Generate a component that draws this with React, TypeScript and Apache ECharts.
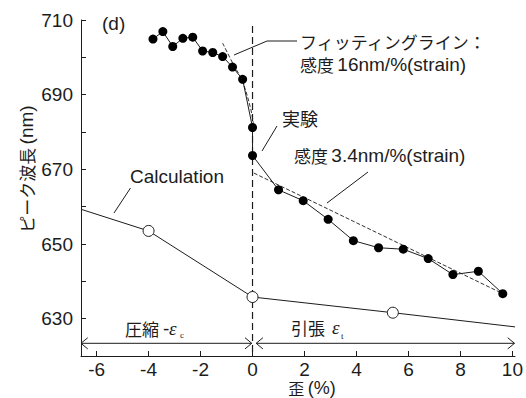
import React, { useEffect, useRef } from "react";
import * as echarts from "echarts";

// Experiment (filled circles)
const expStrain = [-3.83, -3.45, -3.07, -2.68, -2.3, -1.92, -1.53, -1.15, -0.77, -0.38, 0, 0, 1.0, 1.95, 2.91, 3.88, 4.85, 5.8, 6.76, 7.71, 8.69, 9.63];
const expPeak = [704.9, 706.9, 702.9, 705.1, 705.4, 701.7, 701.3, 700.2, 697.4, 694.1, 681.2, 673.7, 664.5, 661.6, 656.6, 650.9, 649.0, 648.6, 646.1, 641.8, 642.7, 636.7];

// Calculation (open circles; the end points are unmarked)
const calcStrain = [-6.6, -4, 0, 5.4, 10.1];
const calcPeak = [659.3, 653.5, 635.8, 631.6, 627.8];
const calcMarked = [false, true, true, true, false];

// Fitting lines
const fitNegStrain = [-1.15, -0.73, -0.41, -0.09, 0.04];
const fitNegPeak = [703.8, 698.0, 693.9, 686.8, 681.9];
const fitPosStrain = [0.05, 9.63];
const fitPosPeak = [669.0, 636.7];

// Axis ticks
const xTicks = [-6, -4, -2, 0, 2, 4, 6, 8, 10];
const yTicks = [630, 640, 650, 660, 670, 680, 690, 700, 710];
const yLabels = [630, 650, 670, 690, 710];

// zero-strain marker and arrows
const zeroLine = [[0, 708.4], [0, 620]];
const arrowY = 623.4;
const leftArrow = [-6.6, -0.03];
const rightArrow = [0.14, 10.08];

const INK = "#1c1c1c";
const LAT = "'Liberation Sans', Arial, 'Noto Sans CJK JP', sans-serif";
const JP = "'Noto Sans CJK JP', 'Liberation Sans', sans-serif";

export default function App() {
  const ref = useRef<HTMLDivElement>(null);
  useEffect(() => {
    if (!ref.current) return;
    const chart = echarts.init(ref.current, null, { renderer: "svg" });

    const hx = 0.26; // chevron length (x units)
    const hy = 1.5; // chevron half height (y units)
    const chevron = (tipX: number, dir: number) => [
      [tipX + dir * hx, arrowY + hy],
      [tipX, arrowY],
      [tipX + dir * hx, arrowY - hy],
    ];
    const lineSeries = (data: number[][], extra: any = {}) => ({
      type: "line",
      data,
      symbol: "none",
      silent: true,
      lineStyle: { color: INK, width: 1 },
      ...extra,
    });

    const option: any = {
      animation: false,
      backgroundColor: "#ffffff",
      grid: { left: 81, right: 11, top: 20, bottom: 42, containLabel: false },
      xAxis: {
        type: "value",
        min: -6.6,
        max: 10.1,
        axisLine: { onZero: false, lineStyle: { color: INK, width: 1 } },
        axisTick: { inside: true, length: 5, customValues: xTicks, lineStyle: { color: INK } },
        axisLabel: { customValues: xTicks, color: INK, fontSize: 19, lineHeight: 18, fontFamily: LAT, margin: 4 },
        splitLine: { show: false },
      },
      yAxis: {
        type: "value",
        min: 620,
        max: 710,
        axisLine: { show: true, onZero: false, lineStyle: { color: INK, width: 1 } },
        axisTick: { show: true, inside: true, length: 5, customValues: yTicks, lineStyle: { color: INK } },
        axisLabel: { customValues: yLabels, color: INK, fontSize: 19, fontFamily: LAT, margin: 8 },
        splitLine: { show: false },
      },
      series: [
        lineSeries(zeroLine, { lineStyle: { color: INK, width: 1.2, type: [7, 4] } }),
        lineSeries(fitNegStrain.map((x, i) => [x, fitNegPeak[i]]), {
          smooth: 0.4,
          lineStyle: { color: INK, width: 0.9, type: [4, 2] },
        }),
        lineSeries(fitPosStrain.map((x, i) => [x, fitPosPeak[i]]), {
          lineStyle: { color: INK, width: 0.9, type: [4, 2] },
        }),
        lineSeries([[leftArrow[0], arrowY], [leftArrow[1], arrowY]]),
        lineSeries(chevron(leftArrow[0], 1)),
        lineSeries(chevron(leftArrow[1], -1)),
        lineSeries([[rightArrow[0], arrowY], [rightArrow[1], arrowY]]),
        lineSeries(chevron(rightArrow[0], 1)),
        lineSeries(chevron(rightArrow[1], -1)),
        {
          type: "line",
          name: "Calculation",
          data: calcStrain.map((x, i) => ({
            value: [x, calcPeak[i]],
            symbol: calcMarked[i] ? "circle" : "none",
          })),
          symbol: "circle",
          symbolSize: 11,
          showAllSymbol: true,
          lineStyle: { color: INK, width: 1 },
          itemStyle: { color: "#ffffff", borderColor: INK, borderWidth: 1 },
          z: 3,
        },
        {
          type: "line",
          name: "実験",
          data: expStrain.map((x, i) => [x, expPeak[i]]),
          symbol: "circle",
          symbolSize: 9,
          showAllSymbol: true,
          lineStyle: { color: INK, width: 1 },
          itemStyle: { color: "#000000", borderColor: "#000000", borderWidth: 0 },
          z: 4,
        },
      ],
      graphic: [
        { type: "text", x: 102, y: 23, style: { text: "(d)", fontSize: 19, fontFamily: LAT, fill: INK, verticalAlign: "middle" } },
        {
          type: "text",
          x: 26,
          y: 169,
          rotation: Math.PI / 2,
          style: {
            text: "{j|ピーク波長} {l|(nm)}",
            align: "center",
            verticalAlign: "middle",
            fill: INK,
            rich: {
              j: { fontSize: 17, fontFamily: JP, fill: INK },
              l: { fontSize: 19, fontFamily: LAT, fill: INK },
            },
          },
        },
        {
          type: "text",
          x: 312,
          y: 387.5,
          style: {
            text: "{j|歪} {l|(%)}",
            align: "center",
            verticalAlign: "middle",
            fill: INK,
            rich: {
              j: { fontSize: 16, fontFamily: JP, fill: INK, lineHeight: 18 },
              l: { fontSize: 18, fontFamily: LAT, fill: INK, lineHeight: 18 },
            },
          },
        },
        {
          type: "text",
          x: 300,
          y: 41,
          style: { text: "フィッティングライン：", fontSize: 17, fontFamily: JP, fill: INK, verticalAlign: "middle" },
        },
        {
          type: "text",
          x: 300,
          y: 64,
          style: {
            text: "{j|感度} {l|16nm/%(strain)}",
            verticalAlign: "middle",
            fill: INK,
            rich: {
              j: { fontSize: 17, fontFamily: JP, fill: INK },
              l: { fontSize: 19, fontFamily: LAT, fill: INK },
            },
          },
        },
        { type: "text", x: 282, y: 118, style: { text: "実験", fontSize: 18, fontFamily: JP, fill: INK, verticalAlign: "middle" } },
        {
          type: "text",
          x: 294,
          y: 155,
          style: {
            text: "{j|感度} {l|3.4nm/%(strain)}",
            verticalAlign: "middle",
            fill: INK,
            rich: {
              j: { fontSize: 17, fontFamily: JP, fill: INK },
              l: { fontSize: 19, fontFamily: LAT, fill: INK },
            },
          },
        },
        { type: "text", x: 130, y: 176, style: { text: "Calculation", fontSize: 19, fontFamily: LAT, fill: INK, verticalAlign: "middle" } },
        { type: "text", x: 125, y: 328, style: { text: "圧縮", fontSize: 17, fontFamily: JP, fill: INK, verticalAlign: "middle" } },
        { type: "text", x: 163, y: 328, style: { text: "-", fontSize: 19, fontFamily: LAT, fill: INK, verticalAlign: "middle" } },
        { type: "text", x: 169, y: 328, style: { text: "ε", fontSize: 19, fontStyle: "italic", fontFamily: "'Liberation Serif', serif", fill: INK, verticalAlign: "middle" } },
        { type: "text", x: 180, y: 335, style: { text: "c", fontSize: 9, fontFamily: "'Liberation Serif', serif", fill: INK, verticalAlign: "middle" } },
        { type: "text", x: 291, y: 327, style: { text: "引張", fontSize: 17, fontFamily: JP, fill: INK, verticalAlign: "middle" } },
        { type: "text", x: 332, y: 327, style: { text: "ε", fontSize: 19, fontStyle: "italic", fontFamily: "'Liberation Serif', serif", fill: INK, verticalAlign: "middle" } },
        { type: "text", x: 341, y: 336, style: { text: "t", fontSize: 9, fontFamily: "'Liberation Serif', serif", fill: INK, verticalAlign: "middle" } },
        { type: "polyline", shape: { points: [[234, 55], [267, 41], [297, 41]] }, style: { stroke: INK, lineWidth: 1, fill: "none" } },
        { type: "line", shape: { x1: 262, y1: 151, x2: 277, y2: 126 }, style: { stroke: INK, lineWidth: 1 } },
        { type: "line", shape: { x1: 368, y1: 172, x2: 327, y2: 203 }, style: { stroke: INK, lineWidth: 1 } },
        { type: "line", shape: { x1: 130.5, y1: 188, x2: 114, y2: 213 }, style: { stroke: INK, lineWidth: 1 } },
      ],
    };
    chart.setOption(option);
    return () => chart.dispose();
  }, []);
  return <div ref={ref} style={{ position: "fixed", left: 0, top: 0, width: 526, height: 398, background: "#fff" }} />;
}
